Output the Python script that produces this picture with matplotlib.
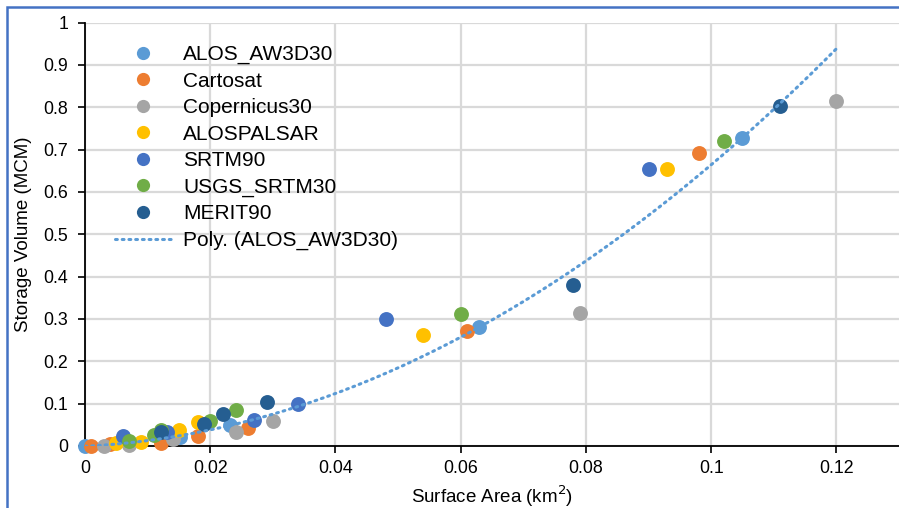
import numpy as np
import matplotlib
matplotlib.use("Agg")
import matplotlib.pyplot as plt
from matplotlib.patches import Rectangle
from matplotlib.lines import Line2D

plt.rcParams['font.family'] = ['Liberation Sans', 'DejaVu Sans']

series_names = ["ALOS_AW3D30", "Cartosat", "Copernicus30", "ALOSPALSAR",
                "SRTM90", "USGS_SRTM30", "MERIT90"]
colors = ["#5B9BD5", "#ED7D31", "#A5A5A5", "#FFC000", "#4472C4", "#70AD47", "#255E91"]

alos_x = [0.0, 0.0152, 0.0231, 0.063, 0.105]
alos_y = [0.0, 0.022, 0.050, 0.281, 0.728]
carto_x = [0.001, 0.004, 0.0121, 0.018, 0.026, 0.061, 0.098]
carto_y = [0.0, 0.004, 0.008, 0.024, 0.043, 0.272, 0.692]
coper_x = [0.003, 0.007, 0.0141, 0.0241, 0.030, 0.079, 0.120]
coper_y = [0.0, 0.003, 0.016, 0.032, 0.060, 0.313, 0.814]
palsar_x = [0.005, 0.0089, 0.015, 0.018, 0.054, 0.093]
palsar_y = [0.007, 0.010, 0.038, 0.057, 0.263, 0.655]
srtm90_x = [0.006, 0.0131, 0.027, 0.034, 0.048, 0.090]
srtm90_y = [0.024, 0.034, 0.061, 0.098, 0.301, 0.653]
usgs_x = [0.007, 0.011, 0.0121, 0.020, 0.0241, 0.060, 0.102]
usgs_y = [0.012, 0.026, 0.038, 0.060, 0.085, 0.311, 0.720]
merit_x = [0.0121, 0.019, 0.0221, 0.029, 0.078, 0.111]
merit_y = [0.033, 0.051, 0.075, 0.104, 0.380, 0.804]

xs = [alos_x, carto_x, coper_x, palsar_x, srtm90_x, usgs_x, merit_x]
ys = [alos_y, carto_y, coper_y, palsar_y, srtm90_y, usgs_y, merit_y]

x_ticks = [0, 0.02, 0.04, 0.06, 0.08, 0.1, 0.12]
x_tick_labels = ["0", "0.02", "0.04", "0.06", "0.08", "0.1", "0.12"]
y_ticks = [0, 0.1, 0.2, 0.3, 0.4, 0.5, 0.6, 0.7, 0.8, 0.9, 1]
y_tick_labels = ["0", "0.1", "0.2", "0.3", "0.4", "0.5", "0.6", "0.7", "0.8", "0.9", "1"]

W, H = 899, 508
fig = plt.figure(figsize=(W / 100, H / 100), dpi=100)
ax = fig.add_axes([85 / W, 1 - 446 / H, (W - 85) / W, (446 - 22.5) / H])

ax.set_xlim(0, 0.13)
ax.set_ylim(0, 1)
ax.set_xticks(x_ticks)
ax.set_xticklabels(x_tick_labels)
ax.set_yticks(y_ticks)
ax.set_yticklabels(y_tick_labels)
ax.grid(True, color="#D9D9D9", linewidth=1.6)
ax.set_axisbelow(True)
for side in ["top", "right"]:
    ax.spines[side].set_visible(False)
for side in ["left", "bottom"]:
    ax.spines[side].set_color("black")
    ax.spines[side].set_linewidth(1.3)
ax.tick_params(axis="both", direction="out", length=5, width=1.2, colors="black",
               labelsize=12.8)
ax.tick_params(axis="y", pad=7)
ax.tick_params(axis="x", pad=5)

# polynomial trend line (order 2) of ALOS_AW3D30
coef = np.polyfit(alos_x, alos_y, 2)
tx = np.linspace(0, 0.12, 200)
ax.plot(tx, np.polyval(coef, tx), linestyle=(0, (0.6, 1.6)), color="#5B9BD5",
        linewidth=2.2, dash_capstyle="round", zorder=5)

for name, c, x, y in zip(series_names, colors, xs, ys):
    ax.scatter(x, y, s=115, color=c, linewidths=0, zorder=4, clip_on=False)

handles = [Line2D([], [], linestyle="none", marker="o", markersize=9.5,
                  markerfacecolor=c, markeredgewidth=0) for c in colors]
handles.append(Line2D([], [], linestyle=(0, (0.6, 1.6)), color="#5B9BD5",
                      linewidth=2.2, dash_capstyle="round"))
labels = series_names + ["Poly. (ALOS_AW3D30)"]
leg = ax.legend(handles, labels, loc="upper left", frameon=False,
                bbox_to_anchor=(22 / (W - 85), 1.0 - 14 / (446 - 22.5)),
                fontsize=15, labelspacing=0.36, handlelength=2.7,
                handletextpad=0.55, borderaxespad=0.0)

ax.set_xlabel("Surface Area (km$^2$)", fontsize=13.5, labelpad=5)
ax.set_ylabel("Storage Volume (MCM)", fontsize=13.5, labelpad=8)

fig.patches.append(Rectangle((7 / W, -0.1), 1.2, 1 - 7 / H + 0.1, transform=fig.transFigure,
                             fill=False, edgecolor="#4472C4", linewidth=1.8))

fig.savefig("out.png", dpi=100)
